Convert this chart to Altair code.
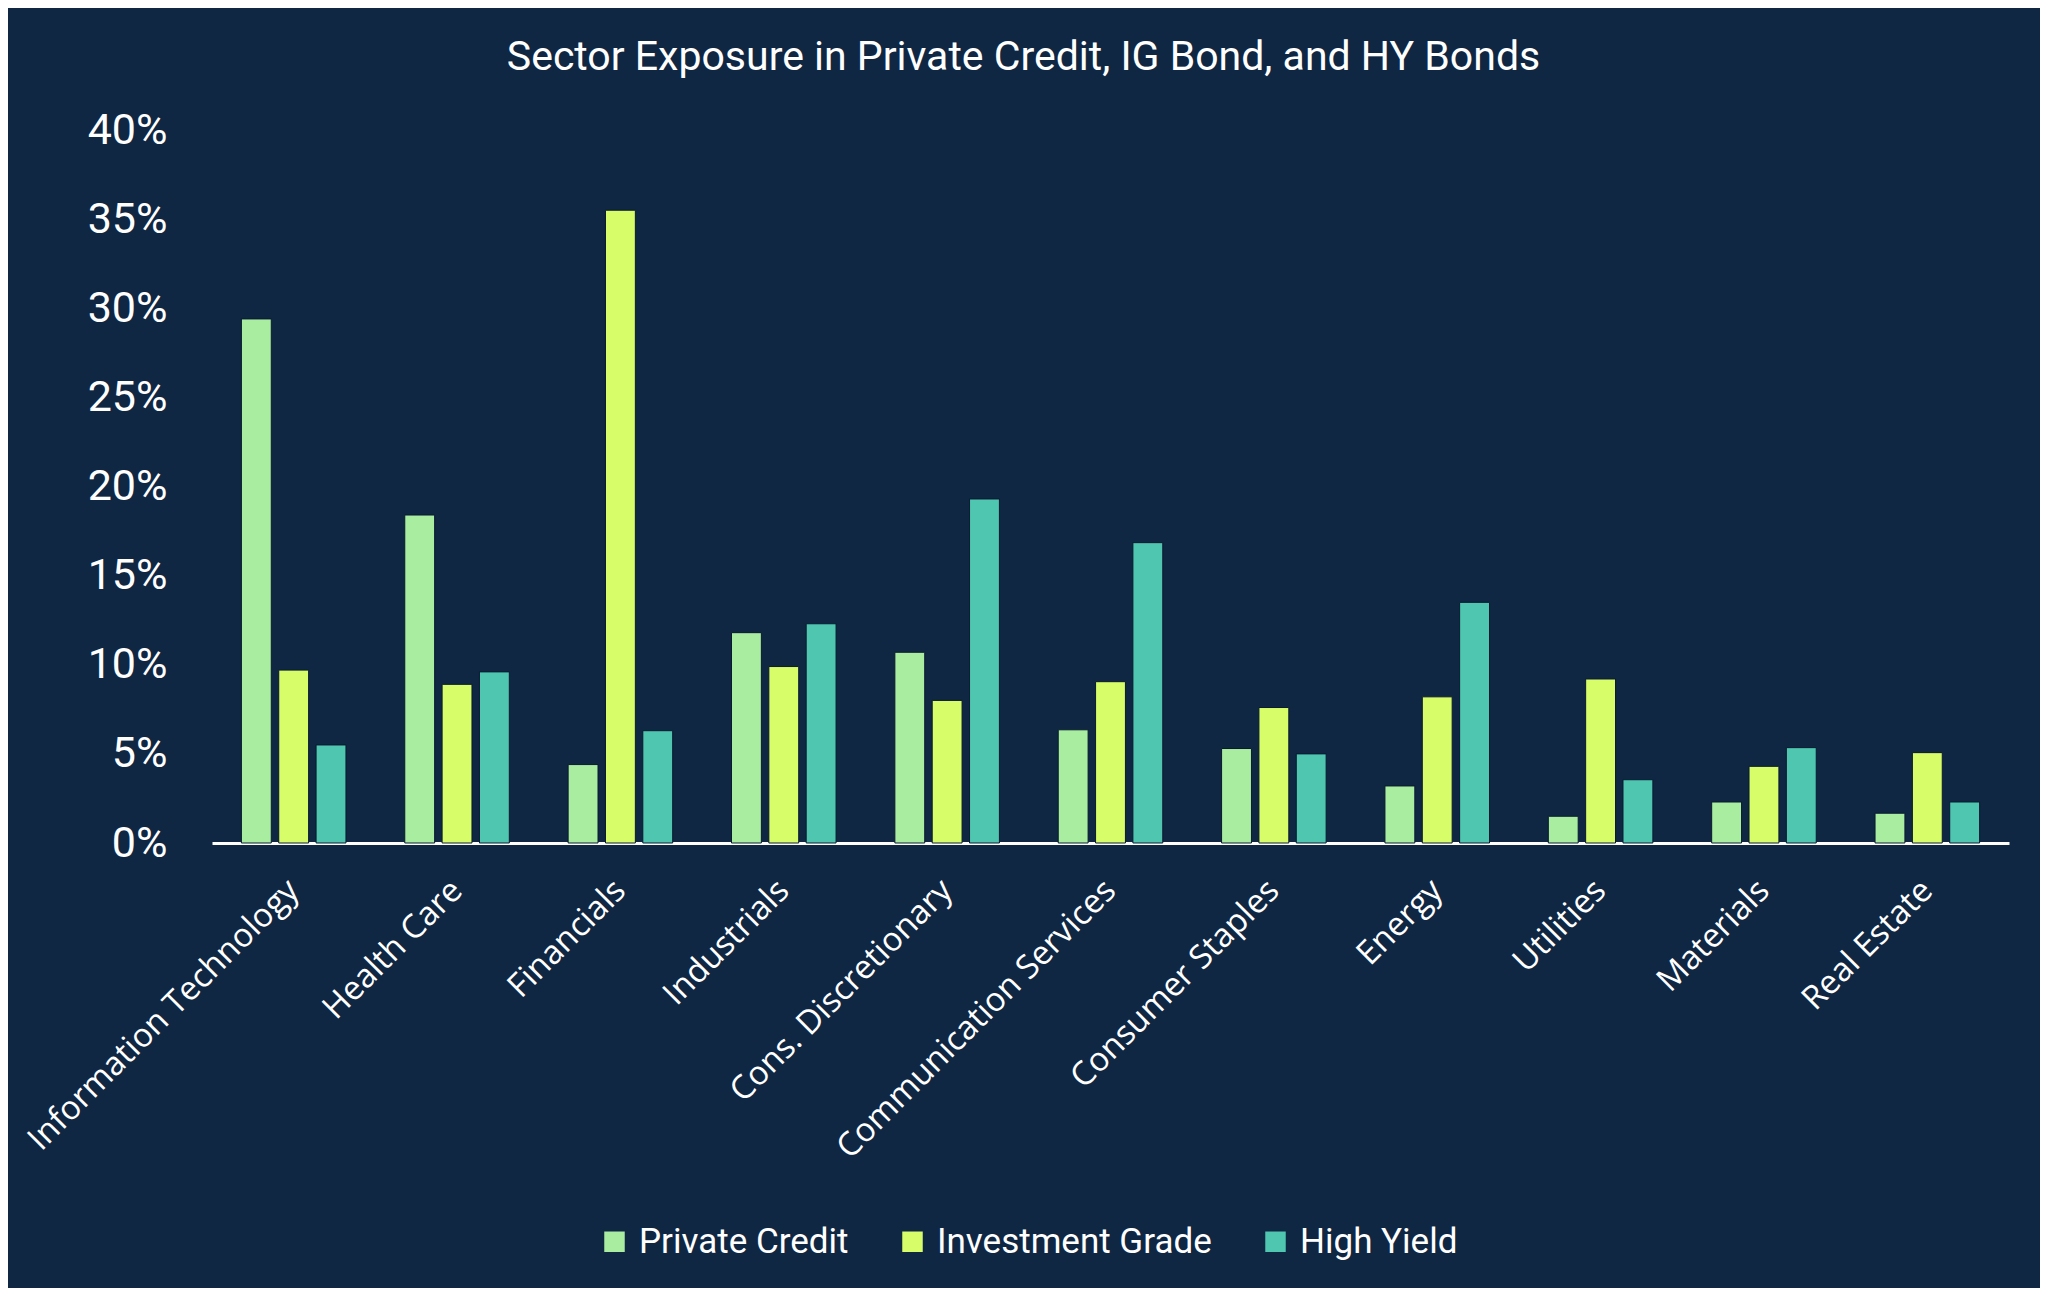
import altair as alt
import pandas as pd

sectors = ["Information Technology", "Health Care", "Financials", "Industrials",
           "Cons. Discretionary", "Communication Services", "Consumer Staples",
           "Energy", "Utilities", "Materials", "Real Estate"]
series = ["Private Credit", "Investment Grade", "High Yield"]
private_credit = [29.4, 18.4, 4.4, 11.8, 10.7, 6.35, 5.3, 3.2, 1.5, 2.3, 1.67]
investment_grade = [9.7, 8.9, 35.5, 9.9, 8.0, 9.05, 7.6, 8.2, 9.2, 4.3, 5.07]
high_yield = [5.5, 9.6, 6.3, 12.3, 19.3, 16.85, 5.0, 13.5, 3.55, 5.35, 2.3]
colors = ["#a9eda0", "#d7fd68", "#4fc6b0"]

rows = []
for name, vals in zip(series, [private_credit, investment_grade, high_yield]):
    for s, v in zip(sectors, vals):
        rows.append({"Sector": s, "Series": name, "Value": v / 100.0})
df = pd.DataFrame(rows)

BG = "#0f2743"
TEXT_FONT = "Roboto"

chart = alt.Chart(df).mark_bar(stroke="#0a1a30", strokeWidth=1).encode(
    x=alt.X("Sector:N", sort=sectors, title=None,
            scale=alt.Scale(paddingInner=0.36, paddingOuter=0.18),
            axis=alt.Axis(labelAngle=-45, labelAlign="right", labelBaseline="middle",
                          labelFont="Open Sans", labelFontSize=33, labelColor="#ffffff",
                          labelPadding=42, ticks=False, domainColor="#ffffff",
                          domainWidth=3, labelLimit=600)),
    xOffset=alt.XOffset("Series:N", sort=series,
                        scale=alt.Scale(paddingInner=0.2, paddingOuter=0)),
    y=alt.Y("Value:Q", title=None,
            scale=alt.Scale(domain=[0, 0.4]),
            axis=alt.Axis(format=".0%", values=[0, 0.05, 0.1, 0.15, 0.2, 0.25, 0.3, 0.35, 0.4],
                          grid=False, ticks=False, domain=False,
                          labelFont=TEXT_FONT, labelFontSize=43, labelColor="#ffffff",
                          labelPadding=45)),
    color=alt.Color("Series:N", sort=series,
                    scale=alt.Scale(domain=series, range=colors),
                    legend=alt.Legend(title=None, orient="none", direction="horizontal",
                                      legendX=385, legendY=1094,
                                      symbolType="square", symbolSize=420,
                                      symbolStrokeWidth=0,
                                      labelFont=TEXT_FONT, labelFontSize=35,
                                      labelLimit=600,
                                      labelColor="#ffffff", columnPadding=46,
                                      labelOffset=7)),
).properties(
    width=1797,
    height=713,
    background=BG,
    padding={"left": 204, "top": 122, "right": 31, "bottom": 445},
    autosize=alt.AutoSizeParams(type="none"),
    title=alt.TitleParams("Sector Exposure in Private Credit, IG Bond, and HY Bonds",
                          font=TEXT_FONT, fontSize=41, fontWeight="normal",
                          color="#ffffff", anchor="middle", dx=-87, offset=30),
).configure_view(stroke=None)

chart.save("out.html", embed_options={"renderer": "svg", "actions": False})
